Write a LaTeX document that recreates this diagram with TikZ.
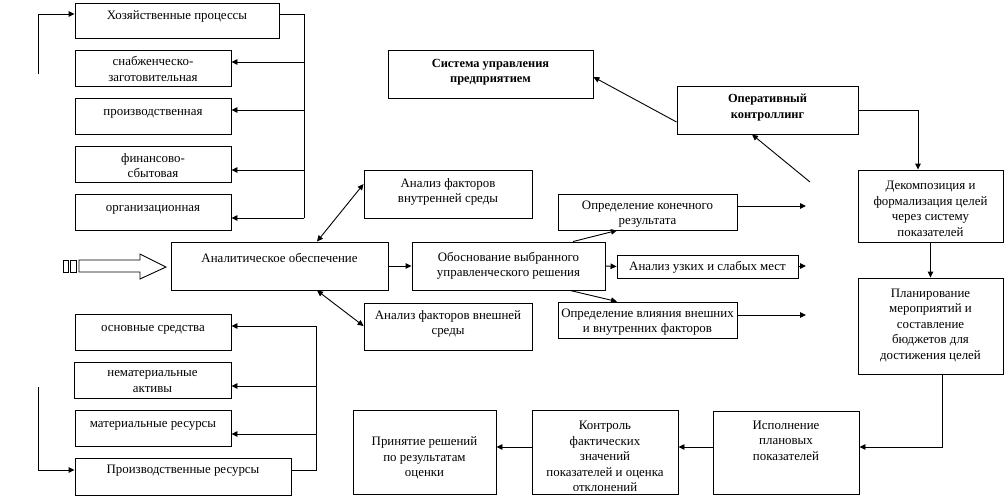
\documentclass[tikz,border=0pt]{standalone}
\usepackage{fontspec}
\setmainfont{Liberation Serif}
\usetikzlibrary{arrows.meta}
\tikzset{
  bx/.style={draw, line width=0.9pt, rectangle, inner sep=0pt},
  txt/.style={align=center, inner sep=0pt, yshift=-1.5pt, font=\fontsize{12.9}{15.5}\selectfont},
  btxt/.style={align=center, inner sep=0pt, yshift=-1.5pt, font=\fontsize{12.4}{15.5}\selectfont\bfseries},
  con/.style={line width=0.9pt},
  arr/.style={con, -{Triangle[length=6pt,width=5.5pt]}},
  darr/.style={con, {Triangle[length=6pt,width=5.5pt]}-{Triangle[length=6pt,width=5.5pt]}},
}
\newcommand\mybox[7]{%
  \node[bx, minimum width={#3pt-#1pt}, minimum height={#4pt-#2pt}] (#5) at ({(#1+#3)/2},{(#2+#4)/2}) {};
  \node[txt] (#5t) at ({(#1+#3)/2},#6) {#7};}
\newcommand\myboldbox[7]{%
  \node[bx, minimum width={#3pt-#1pt}, minimum height={#4pt-#2pt}] (#5) at ({(#1+#3)/2},{(#2+#4)/2}) {};
  \node[btxt] (#5t) at ({(#1+#3)/2},#6) {#7};}
\begin{document}
\begin{tikzpicture}[x=1pt, y=-1pt]
\fill[white] (0,0) rectangle (1006,498);
\useasboundingbox (0,0) rectangle (1006,498);

% left top group
\mybox{75}{3}{279}{38}{hoz}{15}{Хозяйственные процессы}
\mybox{75}{50}{231}{86}{snab}{67.5}{снабженческо-\\заготовительная}
\mybox{75}{98}{231}{134}{proiz}{112}{производственная}
\mybox{75}{146}{231}{182}{fin}{164}{финансово-\\сбытовая}
\mybox{75}{194}{231}{230}{org}{208}{организационная}

% centre
\mybox{171}{242}{388}{290}{anal}{256}{Аналитическое обеспечение}
\mybox{364}{170}{532}{218}{vnutr}{190.5}{Анализ факторов\\внутренней среды}
\mybox{364}{303}{532}{350}{vnesh}{322.5}{Анализ факторов внешней\\среды}
\mybox{412}{242}{605}{290}{obos}{264.5}{Обоснование выбранного\\управленческого решения}
\mybox{558}{194}{737}{230}{kon}{212.5}{Определение конечного\\результата}
\mybox{617}{255}{798}{278}{uzk}{266}{Анализ узких и слабых мест}
\mybox{558}{302}{737}{338}{vli}{320.5}{Определение влияния внешних\\и внутренних факторов}

% top
\myboldbox{388}{50}{593}{98}{sist}{70.5}{Система управления\\предприятием}
\myboldbox{677}{86}{858}{134}{oper}{106}{Оперативный\\контроллинг}

% right column
\mybox{858}{170}{1003}{242}{dek}{207.5}{Декомпозиция и\\формализация целей\\через систему\\показателей}
\mybox{858}{278}{1003}{374}{plan}{324}{Планирование\\мероприятий и\\составление\\бюджетов для\\достижения целей}

% bottom row
\mybox{713}{411}{859}{494}{isp}{439}{Исполнение\\плановых\\показателей}
\mybox{532}{410}{678}{494}{kontr}{455}{Контроль\\фактических\\значений\\показателей и оценка\\отклонений}
\mybox{353}{410}{496}{494}{prin}{456.5}{Принятие решений\\по результатам\\оценки}

% left bottom group
\mybox{75}{314}{231}{350}{osn}{328}{основные средства}
\mybox{74}{362}{231}{398}{nem}{380}{нематериальные\\активы}
\mybox{75}{410}{231}{446}{mat}{424}{материальные ресурсы}
\mybox{75}{458}{291}{495}{pres}{469}{Производственные ресурсы}

% hollow striped arrow
\draw[line width=0.9pt] (63,260) rectangle (68,272);
\draw[line width=0.9pt] (70,260) rectangle (76,272);
\draw[line width=0.9pt] (79,260) -- (140,260) -- (140,254) -- (166,267) -- (140,279) -- (140,272) -- (79,272) -- cycle;

% top-left bus
\coordinate (b1) at (304,14);
\coordinate (b2) at (304,218);
\draw[con] (hoz.east |- b1) -- (b1) -- (b2);
\foreach \n/\y in {snab/62, proiz/110, fin/170, org/218}
  \draw[arr] (304,\y) -- (\n.east |- 304,\y);
\coordinate (f1) at (38,74);
\draw[arr] (f1) -- (38,14) -- (hoz.west |- 38,14);

% bottom-left bus
\coordinate (c1) at (316,470);
\coordinate (c2) at (316,326);
\draw[con] (pres.east |- c1) -- (c1) -- (c2);
\foreach \n/\y in {osn/326, nem/386, mat/434}
  \draw[arr] (316,\y) -- (\n.east |- 316,\y);
\coordinate (f2) at (38,387);
\draw[arr] (f2) -- (38,470) -- (pres.west |- 38,470);

% centre connectors
\draw[arr] (anal.east) -- (obos.west);
\draw[darr] (anal.north -| 317,0) -- (vnutr.west |- 0,184);
\draw[darr] (anal.south -| 317,0) -- (vnesh.west |- 0,326);
\draw[arr] (obos.north -| 573,0) -- (kon.south -| 617,0);
\draw[arr] (obos.east) -- (uzk.west);
\draw[arr] (obos.south -| 570,0) -- (vli.north -| 617,0);
\coordinate (e1) at (806,206);
\coordinate (e2) at (806,266);
\coordinate (e3) at (806,315);
\draw[arr] (kon.east |- e1) -- (e1);
\draw[arr] (uzk.east |- e2) -- (e2);
\draw[arr] (vli.east |- e3) -- (e3);
\coordinate (e4) at (810,182);
\draw[arr] (e4) -- (oper.south -| 752,0);
\draw[arr] (oper.west |- 0,122) -- (sist.east |- 0,77);

% right column connectors
\draw[arr] (oper.east) -- (918,110) -- (dek.north -| 918,0);
\draw[arr] (dek.south) -- (plan.north);
\draw[arr] (plan.south -| 942,0) -- (942,447) -- (isp.east |- 0,447);
\draw[arr] (isp.west |- 0,447) -- (kontr.east |- 0,447);
\draw[arr] (kontr.west |- 0,447) -- (prin.east |- 0,447);
\end{tikzpicture}
\end{document}
